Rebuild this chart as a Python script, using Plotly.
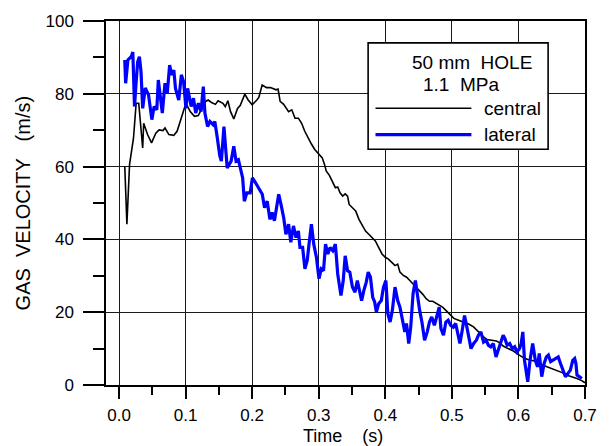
import plotly.graph_objects as go

# Gas velocity at the hole: central and lateral probes
central_t = [0.0086, 0.0118, 0.0158, 0.0217, 0.0257, 0.0296, 0.0355, 0.0370, 0.0428, 0.0488,
             0.0552, 0.0601, 0.0660, 0.0690, 0.0749, 0.0823, 0.0872, 0.0921, 0.0970, 0.1005,
             0.1070, 0.1133, 0.1190, 0.1240, 0.1300, 0.1340, 0.1390, 0.1448, 0.1487, 0.1560,
             0.1596, 0.1635, 0.1675, 0.1724, 0.1780, 0.1820, 0.1890, 0.1940, 0.2000, 0.2070,
             0.2100, 0.2150, 0.2216, 0.2275, 0.2325, 0.2360, 0.2389, 0.2420, 0.2473, 0.2520,
             0.2547, 0.2595, 0.2644, 0.2694, 0.2743, 0.2790, 0.2842, 0.2890, 0.2940, 0.2990,
             0.3024, 0.3053, 0.3087, 0.3112, 0.3160, 0.3200, 0.3250, 0.3285, 0.3320, 0.3360,
             0.3397, 0.3433, 0.3457, 0.3506, 0.3555, 0.3604, 0.3654, 0.3703, 0.3752, 0.3800,
             0.3850, 0.3900, 0.3950, 0.4000, 0.4047, 0.4097, 0.4146, 0.4186, 0.4220, 0.4270,
             0.4320, 0.4368, 0.4417, 0.4467, 0.4516, 0.4564, 0.4614, 0.4663, 0.4712, 0.4760,
             0.4810, 0.4860, 0.4910, 0.4958, 0.5030, 0.5100, 0.5185, 0.5260, 0.5330, 0.5377,
             0.5426, 0.5476, 0.5524, 0.5600, 0.5670, 0.5720, 0.5770, 0.5845, 0.5919, 0.5990,
             0.6066, 0.6140, 0.6210, 0.6287, 0.6360, 0.6435, 0.6510, 0.6580, 0.6657, 0.6730,
             0.6805, 0.6880, 0.6950, 0.7000]
central_v = [60.1, 44.2, 60.6, 67.8, 77.4, 77.4, 65.1, 71.9, 68.8, 66.5,
             69.2, 70.1, 69.9, 70.6, 68.8, 68.6, 69.7, 72.4, 75.1, 77.4,
             75.1, 73.8, 74.0, 76.0, 77.9, 78.3, 77.6, 77.1, 78.1, 77.4,
             76.5, 78.1, 75.1, 73.1, 76.0, 76.8, 79.9, 78.3, 77.0, 78.3,
             79.0, 82.4, 81.7, 81.7, 81.3, 81.1, 81.3, 77.9, 77.1, 76.0,
             75.1, 75.6, 73.3, 73.3, 71.9, 69.7, 67.8, 66.2, 64.7, 63.7,
             62.8, 62.4, 60.6, 58.8, 57.6, 56.0, 54.2, 54.4, 52.8, 51.9,
             52.5, 51.9, 49.6, 48.7, 47.8, 45.5, 43.7, 42.3, 41.4, 40.5,
             39.6, 37.8, 36.0, 35.1, 34.6, 33.7, 32.8, 33.2, 31.0, 30.1,
             29.6, 28.7, 27.8, 26.9, 26.0, 24.9, 23.7, 23.0, 23.0, 22.5,
             22.1, 21.4, 20.5, 19.6, 18.3, 17.8, 17.3, 16.7, 15.9, 15.0,
             14.3, 13.2, 12.5, 12.3, 12.1, 11.6, 10.7, 10.0, 9.4, 8.5,
             7.6, 7.0, 6.8, 6.4, 5.5, 5.0, 4.5, 4.1, 3.4, 2.7,
             2.3, 1.8, 1.2, 0.6]

lateral_t = [0.0086, 0.0099, 0.0133, 0.0183, 0.0207, 0.0232, 0.0257, 0.0280, 0.0306, 0.0330,
             0.0355, 0.0394, 0.0443, 0.0493, 0.0527, 0.0567, 0.0590, 0.0626, 0.0650, 0.0690,
             0.0724, 0.0760, 0.0789, 0.0823, 0.0848, 0.0897, 0.0936, 0.0970, 0.1005, 0.1030,
             0.1084, 0.1118, 0.1152, 0.1192, 0.1232, 0.1266, 0.1290, 0.1330, 0.1365, 0.1414,
             0.1439, 0.1477, 0.1513, 0.1537, 0.1576, 0.1625, 0.1684, 0.1724, 0.1758, 0.1793,
             0.1832, 0.1857, 0.1882, 0.1920, 0.1970, 0.2004, 0.2053, 0.2103, 0.2152, 0.2186,
             0.2226, 0.2266, 0.2300, 0.2334, 0.2364, 0.2399, 0.2433, 0.2473, 0.2507, 0.2547,
             0.2580, 0.2620, 0.2659, 0.2694, 0.2718, 0.2758, 0.2792, 0.2827, 0.2857, 0.2890,
             0.2925, 0.2965, 0.3004, 0.3038, 0.3072, 0.3102, 0.3137, 0.3171, 0.3211, 0.3250,
             0.3285, 0.3334, 0.3368, 0.3397, 0.3433, 0.3467, 0.3506, 0.3545, 0.3580, 0.3604,
             0.3644, 0.3678, 0.3713, 0.3743, 0.3777, 0.3811, 0.3840, 0.3866, 0.3900, 0.3940,
             0.3973, 0.4009, 0.4038, 0.4072, 0.4106, 0.4146, 0.4186, 0.4220, 0.4254, 0.4293,
             0.4318, 0.4352, 0.4382, 0.4417, 0.4452, 0.4481, 0.4516, 0.4550, 0.4590, 0.4630,
             0.4663, 0.4697, 0.4737, 0.4777, 0.4810, 0.4836, 0.4874, 0.4910, 0.4944, 0.4983,
             0.5022, 0.5057, 0.5092, 0.5121, 0.5155, 0.5190, 0.5220, 0.5254, 0.5288, 0.5328,
             0.5368, 0.5400, 0.5436, 0.5476, 0.5515, 0.5550, 0.5584, 0.5623, 0.5663, 0.5697,
             0.5731, 0.5770, 0.5796, 0.5830, 0.5870, 0.5908, 0.5944, 0.5978, 0.6018, 0.6041,
             0.6066, 0.6091, 0.6140, 0.6174, 0.6214, 0.6254, 0.6287, 0.6313, 0.6350, 0.6386,
             0.6420, 0.6450, 0.6484, 0.6520, 0.6558, 0.6598, 0.6632, 0.6667, 0.6706, 0.6746,
             0.6780, 0.6816, 0.6845, 0.6864, 0.6880, 0.6914, 0.6953]
lateral_v = [89.3, 82.9, 89.3, 90.2, 91.5, 76.5, 83.3, 88.8, 90.2, 86.1,
             76.0, 81.6, 79.7, 72.9, 76.5, 75.6, 83.8, 77.9, 74.7, 82.9,
             80.1, 87.9, 85.2, 86.5, 81.5, 78.3, 85.2, 83.3, 76.0, 81.5,
             76.5, 78.8, 74.7, 77.4, 75.1, 82.0, 74.7, 71.0, 72.4, 71.5,
             72.4, 67.8, 63.0, 61.5, 71.0, 59.6, 61.5, 65.6, 61.5, 61.9,
             58.7, 56.9, 50.5, 52.8, 52.8, 56.9, 55.5, 53.7, 52.4, 48.7,
             50.5, 45.5, 47.4, 45.1, 48.3, 52.4, 49.6, 46.0, 41.4, 44.2,
             39.2, 43.7, 40.5, 42.3, 37.8, 37.8, 31.9, 34.2, 39.2, 44.2,
             38.7, 35.1, 29.2, 31.9, 31.4, 38.7, 36.0, 37.8, 36.9, 38.7,
             30.5, 24.6, 28.7, 35.5, 31.4, 31.0, 26.9, 25.5, 28.7, 26.4,
             23.2, 26.0, 28.2, 31.0, 29.6, 24.1, 22.8, 20.0, 22.3, 23.2,
             26.9, 28.7, 19.6, 17.3, 20.5, 26.9, 23.2, 21.4, 17.8, 14.6,
             16.9, 11.4, 15.9, 25.1, 28.7, 24.6, 20.5, 17.3, 12.3, 14.6,
             17.3, 18.7, 16.4, 19.1, 21.4, 15.5, 13.7, 17.3, 17.8, 16.4,
             15.9, 16.9, 13.7, 11.4, 15.0, 19.1, 16.4, 13.2, 10.0, 11.4,
             12.3, 13.7, 14.6, 11.8, 12.3, 10.9, 10.5, 11.4, 7.7, 9.6,
             11.8, 13.7, 12.8, 10.9, 11.4, 10.0, 10.5, 9.1, 10.0, 11.4,
             14.6, 6.8, 0.9, 6.8, 11.4, 6.8, 5.0, 8.7, 2.3, 5.9,
             7.7, 8.2, 6.4, 6.8, 7.3, 7.7, 5.9, 4.1, 2.3, 3.2,
             4.1, 6.8, 7.3, 5.9, 2.7, 2.3, 1.8]

x_ticks = [0.0, 0.1, 0.2, 0.3, 0.4, 0.5, 0.6, 0.7]
y_ticks = [0, 20, 40, 60, 80, 100]

legend_heading = ["50 mm\u00a0\u00a0HOLE", "1.1\u00a0\u00a0MPa"]
series_names = ["central", "lateral"]
series_colors = ["#000000", "#0000ff"]

FONT = "Liberation Sans, Arial, sans-serif"
W, H = 609, 446
L, R, T, B = 106, 593, 19, 385  # plot area edges in pixels


def px(x):
    return (x - L) / (R - L)


def py(y):
    return (B - y) / (B - T)


fig = go.Figure()
fig.add_trace(go.Scatter(x=central_t, y=central_v, mode="lines", name=series_names[0],
                         line=dict(color=series_colors[0], width=1.6), showlegend=False))
fig.add_trace(go.Scatter(x=lateral_t, y=lateral_v, mode="lines", name=series_names[1],
                         line=dict(color=series_colors[1], width=3.2), showlegend=False))

axis_common = dict(showline=True, linecolor="black", linewidth=1.5, mirror=True,
                   showgrid=True, gridcolor="#1a1a1a", gridwidth=1, zeroline=False,
                   ticks="outside", tickcolor="black", tickwidth=1.5,
                   tickfont=dict(family=FONT, size=17, color="black"))

fig.update_xaxes(range=[-0.0196, 0.7], tickvals=x_ticks,
                 ticktext=[f"{v:.1f}" for v in x_ticks], ticklen=12,
                 minor=dict(dtick=0.05, tick0=0, ticklen=8, ticks="outside",
                            tickcolor="black", tickwidth=1.5, showgrid=False),
                 ticklabelstandoff=2, **axis_common)
fig.update_yaxes(range=[0, 100], tickvals=y_ticks, ticklen=21,
                 minor=dict(dtick=10, tick0=0, ticklen=11, ticks="outside",
                            tickcolor="black", tickwidth=1.5, showgrid=False),
                 ticklabelstandoff=6, **axis_common)

annotations = [
    dict(text="Time\u00a0\u00a0\u00a0\u00a0(s)", x=px(347), y=py(436), xref="paper", yref="paper",
         xanchor="center", yanchor="middle", showarrow=False,
         font=dict(family=FONT, size=18, color="black")),
    dict(text="GAS\u00a0\u00a0VELOCITY\u00a0\u00a0\u00a0(m/s)", x=px(22), y=py(202),
         xref="paper", yref="paper", textangle=-90, xanchor="center", yanchor="middle",
         showarrow=False, font=dict(family=FONT, size=20, color="black")),
    dict(text=legend_heading[0], x=px(415), y=py(61), xref="paper", yref="paper",
         xanchor="left", yanchor="middle", showarrow=False,
         font=dict(family=FONT, size=19, color="black")),
    dict(text=legend_heading[1], x=px(426), y=py(83), xref="paper", yref="paper",
         xanchor="left", yanchor="middle", showarrow=False,
         font=dict(family=FONT, size=19, color="black")),
    dict(text=series_names[0], x=px(488), y=py(106.5), xref="paper", yref="paper",
         xanchor="left", yanchor="middle", showarrow=False,
         font=dict(family=FONT, size=19, color="black")),
    dict(text=series_names[1], x=px(488), y=py(133), xref="paper", yref="paper",
         xanchor="left", yanchor="middle", showarrow=False,
         font=dict(family=FONT, size=19, color="black")),
]

shapes = [
    dict(type="rect", xref="paper", yref="paper", x0=px(372.5), x1=px(555.5),
         y0=py(148), y1=py(41), line=dict(color="black", width=1.6), fillcolor="white",
         layer="above"),
    dict(type="line", xref="paper", yref="paper", x0=px(380), x1=px(477.5),
         y0=py(106.7), y1=py(106.7), line=dict(color=series_colors[0], width=1.6),
         layer="above"),
    dict(type="line", xref="paper", yref="paper", x0=px(380), x1=px(477.5),
         y0=py(133.3), y1=py(133.3), line=dict(color=series_colors[1], width=3.2),
         layer="above"),
]

fig.update_layout(width=W, height=H, margin=dict(l=L, r=W - R, t=T, b=H - B),
                  paper_bgcolor="white", plot_bgcolor="white",
                  annotations=annotations, shapes=shapes, showlegend=False)

fig.write_html("out.html")
